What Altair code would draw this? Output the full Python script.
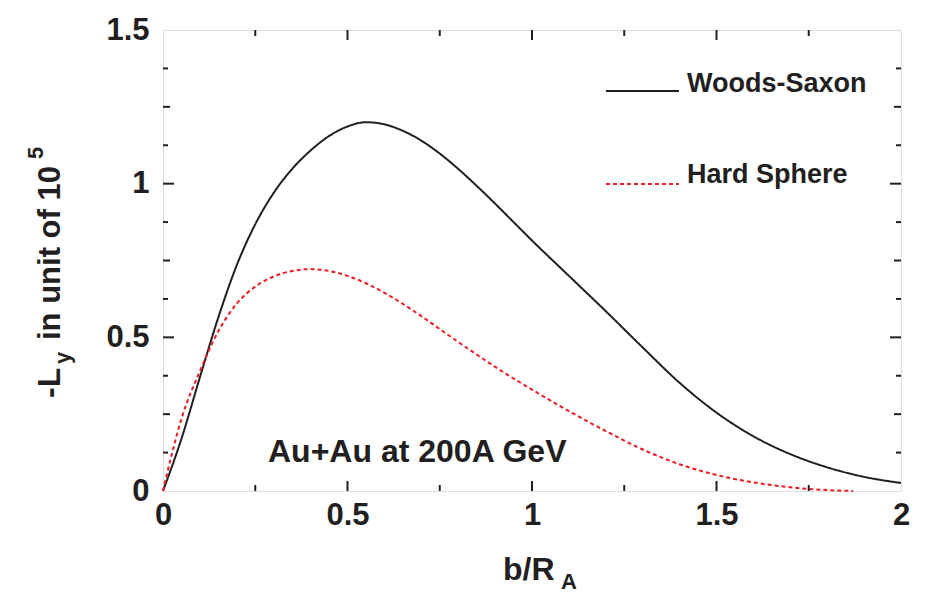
import altair as alt
import pandas as pd

# ---- data ----
ws_b = [0, 0.05, 0.1, 0.15, 0.2, 0.25, 0.3, 0.35, 0.4, 0.45, 0.5, 0.55, 0.6, 0.65,
        0.7, 0.75, 0.8, 0.85, 0.9, 0.95, 1.0, 1.1, 1.2, 1.3, 1.4, 1.5, 1.6, 1.7,
        1.8, 1.9, 2.0]
ws_L = [0, 0.17, 0.37, 0.565, 0.735, 0.868, 0.97, 1.048, 1.108, 1.155, 1.186, 1.2,
        1.193, 1.172, 1.14, 1.098, 1.048, 0.993, 0.935, 0.875, 0.815, 0.70, 0.585,
        0.467, 0.352, 0.255, 0.178, 0.12, 0.077, 0.046, 0.026]

hs_b = [0, 0.025, 0.05, 0.1, 0.15, 0.2, 0.25, 0.3, 0.35, 0.4, 0.45, 0.5, 0.55, 0.6,
        0.65, 0.7, 0.75, 0.8, 0.85, 0.9, 0.95, 1.0, 1.1, 1.2, 1.3, 1.4, 1.5, 1.6,
        1.7, 1.8, 1.87]
hs_L = [0, 0.125, 0.235, 0.39, 0.52, 0.61, 0.665, 0.698, 0.716, 0.722, 0.716, 0.70,
        0.676, 0.645, 0.609, 0.569, 0.527, 0.485, 0.444, 0.404, 0.366, 0.33, 0.26,
        0.195, 0.135, 0.087, 0.052, 0.028, 0.012, 0.003, 0.0]

series_names = ["Woods-Saxon", "Hard Sphere"]
x_labels = [0, 0.5, 1, 1.5, 2]
y_labels = [0, 0.5, 1, 1.5]
x_major = [0.5, 1, 1.5]
x_minor = [0.25, 0.75, 1.25, 1.75]
y_major = [0.5, 1]
y_mid = [0.25, 0.75, 1.25]
y_minor = [0.125, 0.375, 0.625, 0.875, 1.125, 1.375]

W, H = 738, 461
FONT = "Liberation Sans"
INK = "#231f20"
RED = "#ee1c25"

df = pd.concat([
    pd.DataFrame({"b": ws_b, "L": ws_L, "series": series_names[0]}),
    pd.DataFrame({"b": hs_b, "L": hs_L, "series": series_names[1]}),
])

xscale = alt.Scale(domain=[0, 2], nice=False, zero=False)
yscale = alt.Scale(domain=[0, 1.5], nice=False, zero=False)

lines = alt.Chart(df).mark_line(strokeWidth=2, interpolate="monotone").encode(
    x=alt.X("b:Q", scale=xscale,
            axis=alt.Axis(values=x_labels, format="~g", ticks=False, domain=False,
                          grid=False, title=None, labelFont=FONT, labelFontSize=31,
                          labelFontWeight="bold", labelColor=INK, labelPadding=9,
                          labelFlush=False, labelOverlap=False)),
    y=alt.Y("L:Q", scale=yscale,
            axis=alt.Axis(values=y_labels, format="~g", ticks=False, domain=False,
                          grid=False, title=None, labelFont=FONT, labelFontSize=31,
                          labelFontWeight="bold", labelColor=INK, labelPadding=14,
                          labelBaseline="middle", labelFlush=False, labelOverlap=False)),
    color=alt.Color("series:N", scale=alt.Scale(domain=series_names, range=[INK, RED]),
                    legend=None),
    strokeDash=alt.StrokeDash("series:N",
                              scale=alt.Scale(domain=series_names, range=[[1, 0], [4, 3]]),
                              legend=None),
    detail="series:N",
)

layers = [lines]


def xticks(vals, length):
    d = pd.DataFrame({"v": vals})
    bottom = alt.Chart(d).mark_rule(color=INK, strokeWidth=2).encode(
        x=alt.X("v:Q", scale=xscale), y=alt.value(H), y2=alt.value(H - length))
    top = alt.Chart(d).mark_rule(color=INK, strokeWidth=2).encode(
        x=alt.X("v:Q", scale=xscale), y=alt.value(0), y2=alt.value(length))
    return [bottom, top]


def yticks(vals, length):
    d = pd.DataFrame({"v": vals})
    left = alt.Chart(d).mark_rule(color=INK, strokeWidth=2).encode(
        y=alt.Y("v:Q", scale=yscale), x=alt.value(0), x2=alt.value(length))
    right = alt.Chart(d).mark_rule(color=INK, strokeWidth=2).encode(
        y=alt.Y("v:Q", scale=yscale), x=alt.value(W), x2=alt.value(W - length))
    return [left, right]


layers += xticks(x_major, 10) + xticks(x_minor, 6)
layers += yticks(y_major, 11) + yticks(y_mid, 7) + yticks(y_minor, 5)

# legend samples
layers.append(alt.Chart(pd.DataFrame({"s": [series_names[0]]})).mark_rule(
    color=INK, strokeWidth=2).encode(x=alt.value(443), x2=alt.value(516), y=alt.value(61)))
layers.append(alt.Chart(pd.DataFrame({"s": [series_names[1]]})).mark_rule(
    color=RED, strokeWidth=2, strokeDash=[4, 3]).encode(
    x=alt.value(443), x2=alt.value(516), y=alt.value(154)))


def label(text, x, y, size, angle=0, align="left", color=INK):
    return alt.Chart(pd.DataFrame({"t": [text]})).mark_text(
        font=FONT, fontSize=size, fontWeight="bold", color=color, align=align,
        baseline="alphabetic", angle=angle).encode(
        text="t:N", x=alt.value(x), y=alt.value(y))


layers.append(label(series_names[0], 524, 62, 27))
layers.append(label(series_names[1], 524, 153, 27))
layers.append(label("Au+Au at 200A GeV", 105, 432, 32))

# x title b/R_A
layers.append(label("b/R", 340, 550, 32))
layers.append(label("A", 398, 559, 22))

# y title -L_y in unit of 10^5 (rotated)
layers.append(label("-L", -103, 368, 32, angle=270))
layers.append(label("y", -93, 334, 22, angle=270))
layers.append(label(" in unit of 10", -103, 310, 31, angle=270))
layers.append(label("5", -120, 129, 22, angle=270))

chart = alt.layer(*layers).properties(
    width=W, height=H,
    autosize=alt.AutoSizeParams(type="none"),
    padding={"left": 155, "top": 22, "right": 43, "bottom": 106},
).configure_view(stroke=INK, strokeWidth=2).configure(background="white")

chart.save("out.html", embed_options={"renderer": "svg", "actions": False})
